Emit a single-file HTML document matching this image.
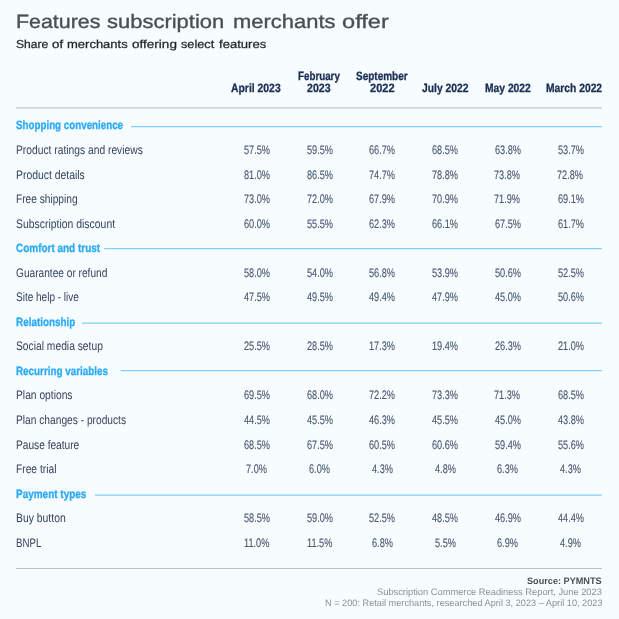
<!DOCTYPE html>
<html lang="en"><head><meta charset="utf-8"><title>Features subscription merchants offer</title>
<style>
html,body{margin:0;padding:0;}
body{width:619px;height:619px;background:#f7fcff;position:relative;overflow:hidden;font-family:"Liberation Sans",sans-serif;}
.t{position:absolute;white-space:pre;line-height:1;height:1em;transform-origin:0 0;text-rendering:geometricPrecision;}
.ti{-webkit-text-stroke:0.35px #4a4f57;}
.su{-webkit-text-stroke:0.25px #23262b;}
.b{-webkit-text-stroke-width:0.12px;}
.hd{-webkit-text-stroke-width:0.3px;}
svg{position:absolute;left:0;top:0;}
</style></head><body>
<svg width="619" height="619" viewBox="0 0 619 619">
<line x1="16.00" y1="107.78" x2="601.95" y2="107.78" stroke="#c3c8cc" stroke-width="1.30"/>
<line x1="16.00" y1="568.45" x2="601.95" y2="568.45" stroke="#bcc1c5" stroke-width="1.10"/>
<line x1="131.10" y1="126.65" x2="601.95" y2="126.65" stroke="#80d2fc" stroke-width="1.25"/>
<line x1="104.20" y1="248.50" x2="601.95" y2="248.50" stroke="#80d2fc" stroke-width="1.25"/>
<line x1="82.00" y1="323.00" x2="601.95" y2="323.00" stroke="#80d2fc" stroke-width="1.25"/>
<line x1="120.75" y1="370.50" x2="601.95" y2="370.50" stroke="#80d2fc" stroke-width="1.25"/>
<line x1="95.00" y1="495.00" x2="601.95" y2="495.00" stroke="#80d2fc" stroke-width="1.25"/>
</svg>
<div class="t ti" style="left:16.07px;top:13px;font-size:19.30px;font-weight:400;color:#4a4f57;transform:scaleX(1.1092)">Features</div>
<div class="t ti" style="left:107.40px;top:13px;font-size:19.30px;font-weight:400;color:#4a4f57;transform:scaleX(1.1397)">subscription</div>
<div class="t ti" style="left:232.96px;top:13px;font-size:19.30px;font-weight:400;color:#4a4f57;transform:scaleX(1.1383)">merchants</div>
<div class="t ti" style="left:342.40px;top:13px;font-size:19.30px;font-weight:400;color:#4a4f57;transform:scaleX(1.2247)">offer</div>
<div class="t su" style="left:16.29px;top:40px;font-size:11.50px;font-weight:400;color:#23262b;transform:scaleX(1.0518)">Share</div>
<div class="t su" style="left:52.18px;top:40px;font-size:11.50px;font-weight:400;color:#23262b;transform:scaleX(1.1535)">of</div>
<div class="t su" style="left:67.23px;top:40px;font-size:11.50px;font-weight:400;color:#23262b;transform:scaleX(1.1304)">merchants</div>
<div class="t su" style="left:132.45px;top:40px;font-size:11.50px;font-weight:400;color:#23262b;transform:scaleX(1.1771)">offering</div>
<div class="t su" style="left:180.98px;top:40px;font-size:11.50px;font-weight:400;color:#23262b;transform:scaleX(1.1066)">select</div>
<div class="t su" style="left:219.48px;top:40px;font-size:11.50px;font-weight:400;color:#23262b;transform:scaleX(1.1364)">features</div>
<div class="t hd" style="left:231.05px;top:82px;font-size:12.00px;font-weight:700;color:#1b2e55;transform:scaleX(0.8659)">April 2023</div>
<div class="t hd" style="left:297.80px;top:70px;font-size:12.00px;font-weight:700;color:#1b2e55;transform:scaleX(0.8154)">February</div>
<div class="t hd" style="left:307.01px;top:82px;font-size:12.00px;font-weight:700;color:#1b2e55;transform:scaleX(0.8828)">2023</div>
<div class="t hd" style="left:356.42px;top:70px;font-size:12.00px;font-weight:700;color:#1b2e55;transform:scaleX(0.8328)">September</div>
<div class="t hd" style="left:370.44px;top:82px;font-size:12.00px;font-weight:700;color:#1b2e55;transform:scaleX(0.9202)">2022</div>
<div class="t hd" style="left:421.79px;top:82px;font-size:12.00px;font-weight:700;color:#1b2e55;transform:scaleX(0.8583)">July 2022</div>
<div class="t hd" style="left:484.98px;top:82px;font-size:12.00px;font-weight:700;color:#1b2e55;transform:scaleX(0.8580)">May 2022</div>
<div class="t hd" style="left:545.62px;top:82px;font-size:12.00px;font-weight:700;color:#1b2e55;transform:scaleX(0.8581)">March 2022</div>
<div class="t hd" style="left:16.00px;top:119px;font-size:12.00px;font-weight:700;color:#2aaaf5;transform:scaleX(0.8150)">Shopping convenience</div>
<div class="t" style="left:16.00px;top:144px;font-size:12.40px;font-weight:400;color:#36435e;transform:scaleX(0.8294)">Product ratings and reviews</div>
<div class="t b" style="left:243.70px;top:144px;font-size:12.40px;font-weight:400;color:#48566f;transform:scaleX(0.7400)">57.5%</div>
<div class="t b" style="left:306.70px;top:144px;font-size:12.40px;font-weight:400;color:#48566f;transform:scaleX(0.7400)">59.5%</div>
<div class="t b" style="left:369.40px;top:144px;font-size:12.40px;font-weight:400;color:#48566f;transform:scaleX(0.7400)">66.7%</div>
<div class="t b" style="left:432.00px;top:144px;font-size:12.40px;font-weight:400;color:#48566f;transform:scaleX(0.7400)">68.5%</div>
<div class="t b" style="left:494.60px;top:144px;font-size:12.40px;font-weight:400;color:#48566f;transform:scaleX(0.7400)">63.8%</div>
<div class="t b" style="left:557.60px;top:144px;font-size:12.40px;font-weight:400;color:#48566f;transform:scaleX(0.7400)">53.7%</div>
<div class="t" style="left:16.00px;top:169px;font-size:12.40px;font-weight:400;color:#36435e;transform:scaleX(0.8394)">Product details</div>
<div class="t b" style="left:243.70px;top:169px;font-size:12.40px;font-weight:400;color:#48566f;transform:scaleX(0.7400)">81.0%</div>
<div class="t b" style="left:306.70px;top:169px;font-size:12.40px;font-weight:400;color:#48566f;transform:scaleX(0.7400)">86.5%</div>
<div class="t b" style="left:369.40px;top:169px;font-size:12.40px;font-weight:400;color:#48566f;transform:scaleX(0.7400)">74.7%</div>
<div class="t b" style="left:432.00px;top:169px;font-size:12.40px;font-weight:400;color:#48566f;transform:scaleX(0.7400)">78.8%</div>
<div class="t b" style="left:494.20px;top:169px;font-size:12.40px;font-weight:400;color:#48566f;transform:scaleX(0.7400)">73.8%</div>
<div class="t b" style="left:557.20px;top:169px;font-size:12.40px;font-weight:400;color:#48566f;transform:scaleX(0.7400)">72.8%</div>
<div class="t" style="left:16.00px;top:193px;font-size:12.40px;font-weight:400;color:#36435e;transform:scaleX(0.8202)">Free shipping</div>
<div class="t b" style="left:243.70px;top:193px;font-size:12.40px;font-weight:400;color:#48566f;transform:scaleX(0.7400)">73.0%</div>
<div class="t b" style="left:306.70px;top:193px;font-size:12.40px;font-weight:400;color:#48566f;transform:scaleX(0.7400)">72.0%</div>
<div class="t b" style="left:369.40px;top:193px;font-size:12.40px;font-weight:400;color:#48566f;transform:scaleX(0.7400)">67.9%</div>
<div class="t b" style="left:432.00px;top:193px;font-size:12.40px;font-weight:400;color:#48566f;transform:scaleX(0.7400)">70.9%</div>
<div class="t b" style="left:494.20px;top:193px;font-size:12.40px;font-weight:400;color:#48566f;transform:scaleX(0.7400)">71.9%</div>
<div class="t b" style="left:557.60px;top:193px;font-size:12.40px;font-weight:400;color:#48566f;transform:scaleX(0.7400)">69.1%</div>
<div class="t" style="left:16.00px;top:218px;font-size:12.40px;font-weight:400;color:#36435e;transform:scaleX(0.8412)">Subscription discount</div>
<div class="t b" style="left:243.70px;top:218px;font-size:12.40px;font-weight:400;color:#48566f;transform:scaleX(0.7400)">60.0%</div>
<div class="t b" style="left:306.70px;top:218px;font-size:12.40px;font-weight:400;color:#48566f;transform:scaleX(0.7400)">55.5%</div>
<div class="t b" style="left:369.40px;top:218px;font-size:12.40px;font-weight:400;color:#48566f;transform:scaleX(0.7400)">62.3%</div>
<div class="t b" style="left:432.00px;top:218px;font-size:12.40px;font-weight:400;color:#48566f;transform:scaleX(0.7400)">66.1%</div>
<div class="t b" style="left:494.60px;top:218px;font-size:12.40px;font-weight:400;color:#48566f;transform:scaleX(0.7400)">67.5%</div>
<div class="t b" style="left:557.60px;top:218px;font-size:12.40px;font-weight:400;color:#48566f;transform:scaleX(0.7400)">61.7%</div>
<div class="t hd" style="left:16.00px;top:242px;font-size:12.00px;font-weight:700;color:#2aaaf5;transform:scaleX(0.8299)">Comfort and trust</div>
<div class="t" style="left:16.00px;top:267px;font-size:12.40px;font-weight:400;color:#36435e;transform:scaleX(0.8188)">Guarantee or refund</div>
<div class="t b" style="left:243.70px;top:267px;font-size:12.40px;font-weight:400;color:#48566f;transform:scaleX(0.7400)">58.0%</div>
<div class="t b" style="left:306.70px;top:267px;font-size:12.40px;font-weight:400;color:#48566f;transform:scaleX(0.7400)">54.0%</div>
<div class="t b" style="left:369.40px;top:267px;font-size:12.40px;font-weight:400;color:#48566f;transform:scaleX(0.7400)">56.8%</div>
<div class="t b" style="left:432.00px;top:267px;font-size:12.40px;font-weight:400;color:#48566f;transform:scaleX(0.7400)">53.9%</div>
<div class="t b" style="left:494.60px;top:267px;font-size:12.40px;font-weight:400;color:#48566f;transform:scaleX(0.7400)">50.6%</div>
<div class="t b" style="left:557.60px;top:267px;font-size:12.40px;font-weight:400;color:#48566f;transform:scaleX(0.7400)">52.5%</div>
<div class="t" style="left:16.00px;top:291px;font-size:12.40px;font-weight:400;color:#36435e;transform:scaleX(0.8077)">Site help - live</div>
<div class="t b" style="left:243.70px;top:291px;font-size:12.40px;font-weight:400;color:#48566f;transform:scaleX(0.7400)">47.5%</div>
<div class="t b" style="left:306.70px;top:291px;font-size:12.40px;font-weight:400;color:#48566f;transform:scaleX(0.7400)">49.5%</div>
<div class="t b" style="left:369.40px;top:291px;font-size:12.40px;font-weight:400;color:#48566f;transform:scaleX(0.7400)">49.4%</div>
<div class="t b" style="left:432.00px;top:291px;font-size:12.40px;font-weight:400;color:#48566f;transform:scaleX(0.7400)">47.9%</div>
<div class="t b" style="left:494.60px;top:291px;font-size:12.40px;font-weight:400;color:#48566f;transform:scaleX(0.7400)">45.0%</div>
<div class="t b" style="left:557.60px;top:291px;font-size:12.40px;font-weight:400;color:#48566f;transform:scaleX(0.7400)">50.6%</div>
<div class="t hd" style="left:16.00px;top:316px;font-size:12.00px;font-weight:700;color:#2aaaf5;transform:scaleX(0.8244)">Relationship</div>
<div class="t" style="left:16.00px;top:340px;font-size:12.40px;font-weight:400;color:#36435e;transform:scaleX(0.8295)">Social media setup</div>
<div class="t b" style="left:243.70px;top:340px;font-size:12.40px;font-weight:400;color:#48566f;transform:scaleX(0.7400)">25.5%</div>
<div class="t b" style="left:306.70px;top:340px;font-size:12.40px;font-weight:400;color:#48566f;transform:scaleX(0.7400)">28.5%</div>
<div class="t b" style="left:369.40px;top:340px;font-size:12.40px;font-weight:400;color:#48566f;transform:scaleX(0.7400)">17.3%</div>
<div class="t b" style="left:432.00px;top:340px;font-size:12.40px;font-weight:400;color:#48566f;transform:scaleX(0.7400)">19.4%</div>
<div class="t b" style="left:494.60px;top:340px;font-size:12.40px;font-weight:400;color:#48566f;transform:scaleX(0.7400)">26.3%</div>
<div class="t b" style="left:557.60px;top:340px;font-size:12.40px;font-weight:400;color:#48566f;transform:scaleX(0.7400)">21.0%</div>
<div class="t hd" style="left:16.00px;top:365px;font-size:12.00px;font-weight:700;color:#2aaaf5;transform:scaleX(0.8208)">Recurring variables</div>
<div class="t" style="left:16.00px;top:389px;font-size:12.40px;font-weight:400;color:#36435e;transform:scaleX(0.8286)">Plan options</div>
<div class="t b" style="left:243.70px;top:389px;font-size:12.40px;font-weight:400;color:#48566f;transform:scaleX(0.7400)">69.5%</div>
<div class="t b" style="left:306.70px;top:389px;font-size:12.40px;font-weight:400;color:#48566f;transform:scaleX(0.7400)">68.0%</div>
<div class="t b" style="left:369.40px;top:389px;font-size:12.40px;font-weight:400;color:#48566f;transform:scaleX(0.7400)">72.2%</div>
<div class="t b" style="left:432.00px;top:389px;font-size:12.40px;font-weight:400;color:#48566f;transform:scaleX(0.7400)">73.3%</div>
<div class="t b" style="left:494.20px;top:389px;font-size:12.40px;font-weight:400;color:#48566f;transform:scaleX(0.7400)">71.3%</div>
<div class="t b" style="left:557.60px;top:389px;font-size:12.40px;font-weight:400;color:#48566f;transform:scaleX(0.7400)">68.5%</div>
<div class="t" style="left:16.00px;top:414px;font-size:12.40px;font-weight:400;color:#36435e;transform:scaleX(0.8236)">Plan changes - products</div>
<div class="t b" style="left:243.70px;top:414px;font-size:12.40px;font-weight:400;color:#48566f;transform:scaleX(0.7400)">44.5%</div>
<div class="t b" style="left:306.70px;top:414px;font-size:12.40px;font-weight:400;color:#48566f;transform:scaleX(0.7400)">45.5%</div>
<div class="t b" style="left:369.40px;top:414px;font-size:12.40px;font-weight:400;color:#48566f;transform:scaleX(0.7400)">46.3%</div>
<div class="t b" style="left:432.00px;top:414px;font-size:12.40px;font-weight:400;color:#48566f;transform:scaleX(0.7400)">45.5%</div>
<div class="t b" style="left:494.60px;top:414px;font-size:12.40px;font-weight:400;color:#48566f;transform:scaleX(0.7400)">45.0%</div>
<div class="t b" style="left:557.60px;top:414px;font-size:12.40px;font-weight:400;color:#48566f;transform:scaleX(0.7400)">43.8%</div>
<div class="t" style="left:16.00px;top:439px;font-size:12.40px;font-weight:400;color:#36435e;transform:scaleX(0.8199)">Pause feature</div>
<div class="t b" style="left:243.70px;top:439px;font-size:12.40px;font-weight:400;color:#48566f;transform:scaleX(0.7400)">68.5%</div>
<div class="t b" style="left:306.70px;top:439px;font-size:12.40px;font-weight:400;color:#48566f;transform:scaleX(0.7400)">67.5%</div>
<div class="t b" style="left:369.40px;top:439px;font-size:12.40px;font-weight:400;color:#48566f;transform:scaleX(0.7400)">60.5%</div>
<div class="t b" style="left:432.00px;top:439px;font-size:12.40px;font-weight:400;color:#48566f;transform:scaleX(0.7400)">60.6%</div>
<div class="t b" style="left:494.60px;top:439px;font-size:12.40px;font-weight:400;color:#48566f;transform:scaleX(0.7400)">59.4%</div>
<div class="t b" style="left:557.60px;top:439px;font-size:12.40px;font-weight:400;color:#48566f;transform:scaleX(0.7400)">55.6%</div>
<div class="t" style="left:16.00px;top:463px;font-size:12.40px;font-weight:400;color:#36435e;transform:scaleX(0.8268)">Free trial</div>
<div class="t b" style="left:246.25px;top:463px;font-size:12.40px;font-weight:400;color:#48566f;transform:scaleX(0.7400)">7.0%</div>
<div class="t b" style="left:309.25px;top:463px;font-size:12.40px;font-weight:400;color:#48566f;transform:scaleX(0.7400)">6.0%</div>
<div class="t b" style="left:371.95px;top:463px;font-size:12.40px;font-weight:400;color:#48566f;transform:scaleX(0.7400)">4.3%</div>
<div class="t b" style="left:434.55px;top:463px;font-size:12.40px;font-weight:400;color:#48566f;transform:scaleX(0.7400)">4.8%</div>
<div class="t b" style="left:497.15px;top:463px;font-size:12.40px;font-weight:400;color:#48566f;transform:scaleX(0.7400)">6.3%</div>
<div class="t b" style="left:560.15px;top:463px;font-size:12.40px;font-weight:400;color:#48566f;transform:scaleX(0.7400)">4.3%</div>
<div class="t hd" style="left:16.00px;top:488px;font-size:12.00px;font-weight:700;color:#2aaaf5;transform:scaleX(0.8308)">Payment types</div>
<div class="t" style="left:16.00px;top:512px;font-size:12.40px;font-weight:400;color:#36435e;transform:scaleX(0.8392)">Buy button</div>
<div class="t b" style="left:243.70px;top:512px;font-size:12.40px;font-weight:400;color:#48566f;transform:scaleX(0.7400)">58.5%</div>
<div class="t b" style="left:306.70px;top:512px;font-size:12.40px;font-weight:400;color:#48566f;transform:scaleX(0.7400)">59.0%</div>
<div class="t b" style="left:369.40px;top:512px;font-size:12.40px;font-weight:400;color:#48566f;transform:scaleX(0.7400)">52.5%</div>
<div class="t b" style="left:432.00px;top:512px;font-size:12.40px;font-weight:400;color:#48566f;transform:scaleX(0.7400)">48.5%</div>
<div class="t b" style="left:494.60px;top:512px;font-size:12.40px;font-weight:400;color:#48566f;transform:scaleX(0.7400)">46.9%</div>
<div class="t b" style="left:557.60px;top:512px;font-size:12.40px;font-weight:400;color:#48566f;transform:scaleX(0.7400)">44.4%</div>
<div class="t" style="left:16.00px;top:537px;font-size:12.40px;font-weight:400;color:#36435e;transform:scaleX(0.7821)">BNPL</div>
<div class="t b" style="left:244.05px;top:537px;font-size:12.40px;font-weight:400;color:#48566f;transform:scaleX(0.7400)">11.0%</div>
<div class="t b" style="left:307.05px;top:537px;font-size:12.40px;font-weight:400;color:#48566f;transform:scaleX(0.7400)">11.5%</div>
<div class="t b" style="left:371.95px;top:537px;font-size:12.40px;font-weight:400;color:#48566f;transform:scaleX(0.7400)">6.8%</div>
<div class="t b" style="left:434.55px;top:537px;font-size:12.40px;font-weight:400;color:#48566f;transform:scaleX(0.7400)">5.5%</div>
<div class="t b" style="left:497.15px;top:537px;font-size:12.40px;font-weight:400;color:#48566f;transform:scaleX(0.7400)">6.9%</div>
<div class="t b" style="left:560.15px;top:537px;font-size:12.40px;font-weight:400;color:#48566f;transform:scaleX(0.7400)">4.9%</div>
<div class="t" style="left:527.20px;top:576px;font-size:9.40px;font-weight:700;color:#4a4f57;transform:scaleX(0.9741)">Source: PYMNTS</div>
<div class="t" style="left:377.37px;top:587px;font-size:9.40px;font-weight:400;color:#8b9097;transform:scaleX(0.9920)">Subscription Commerce Readiness Report, June 2023</div>
<div class="t" style="left:325.14px;top:598px;font-size:9.40px;font-weight:400;color:#8b9097;transform:scaleX(0.9799)">N = 200: Retail merchants, researched April 3, 2023 – April 10, 2023</div>
</body></html>
